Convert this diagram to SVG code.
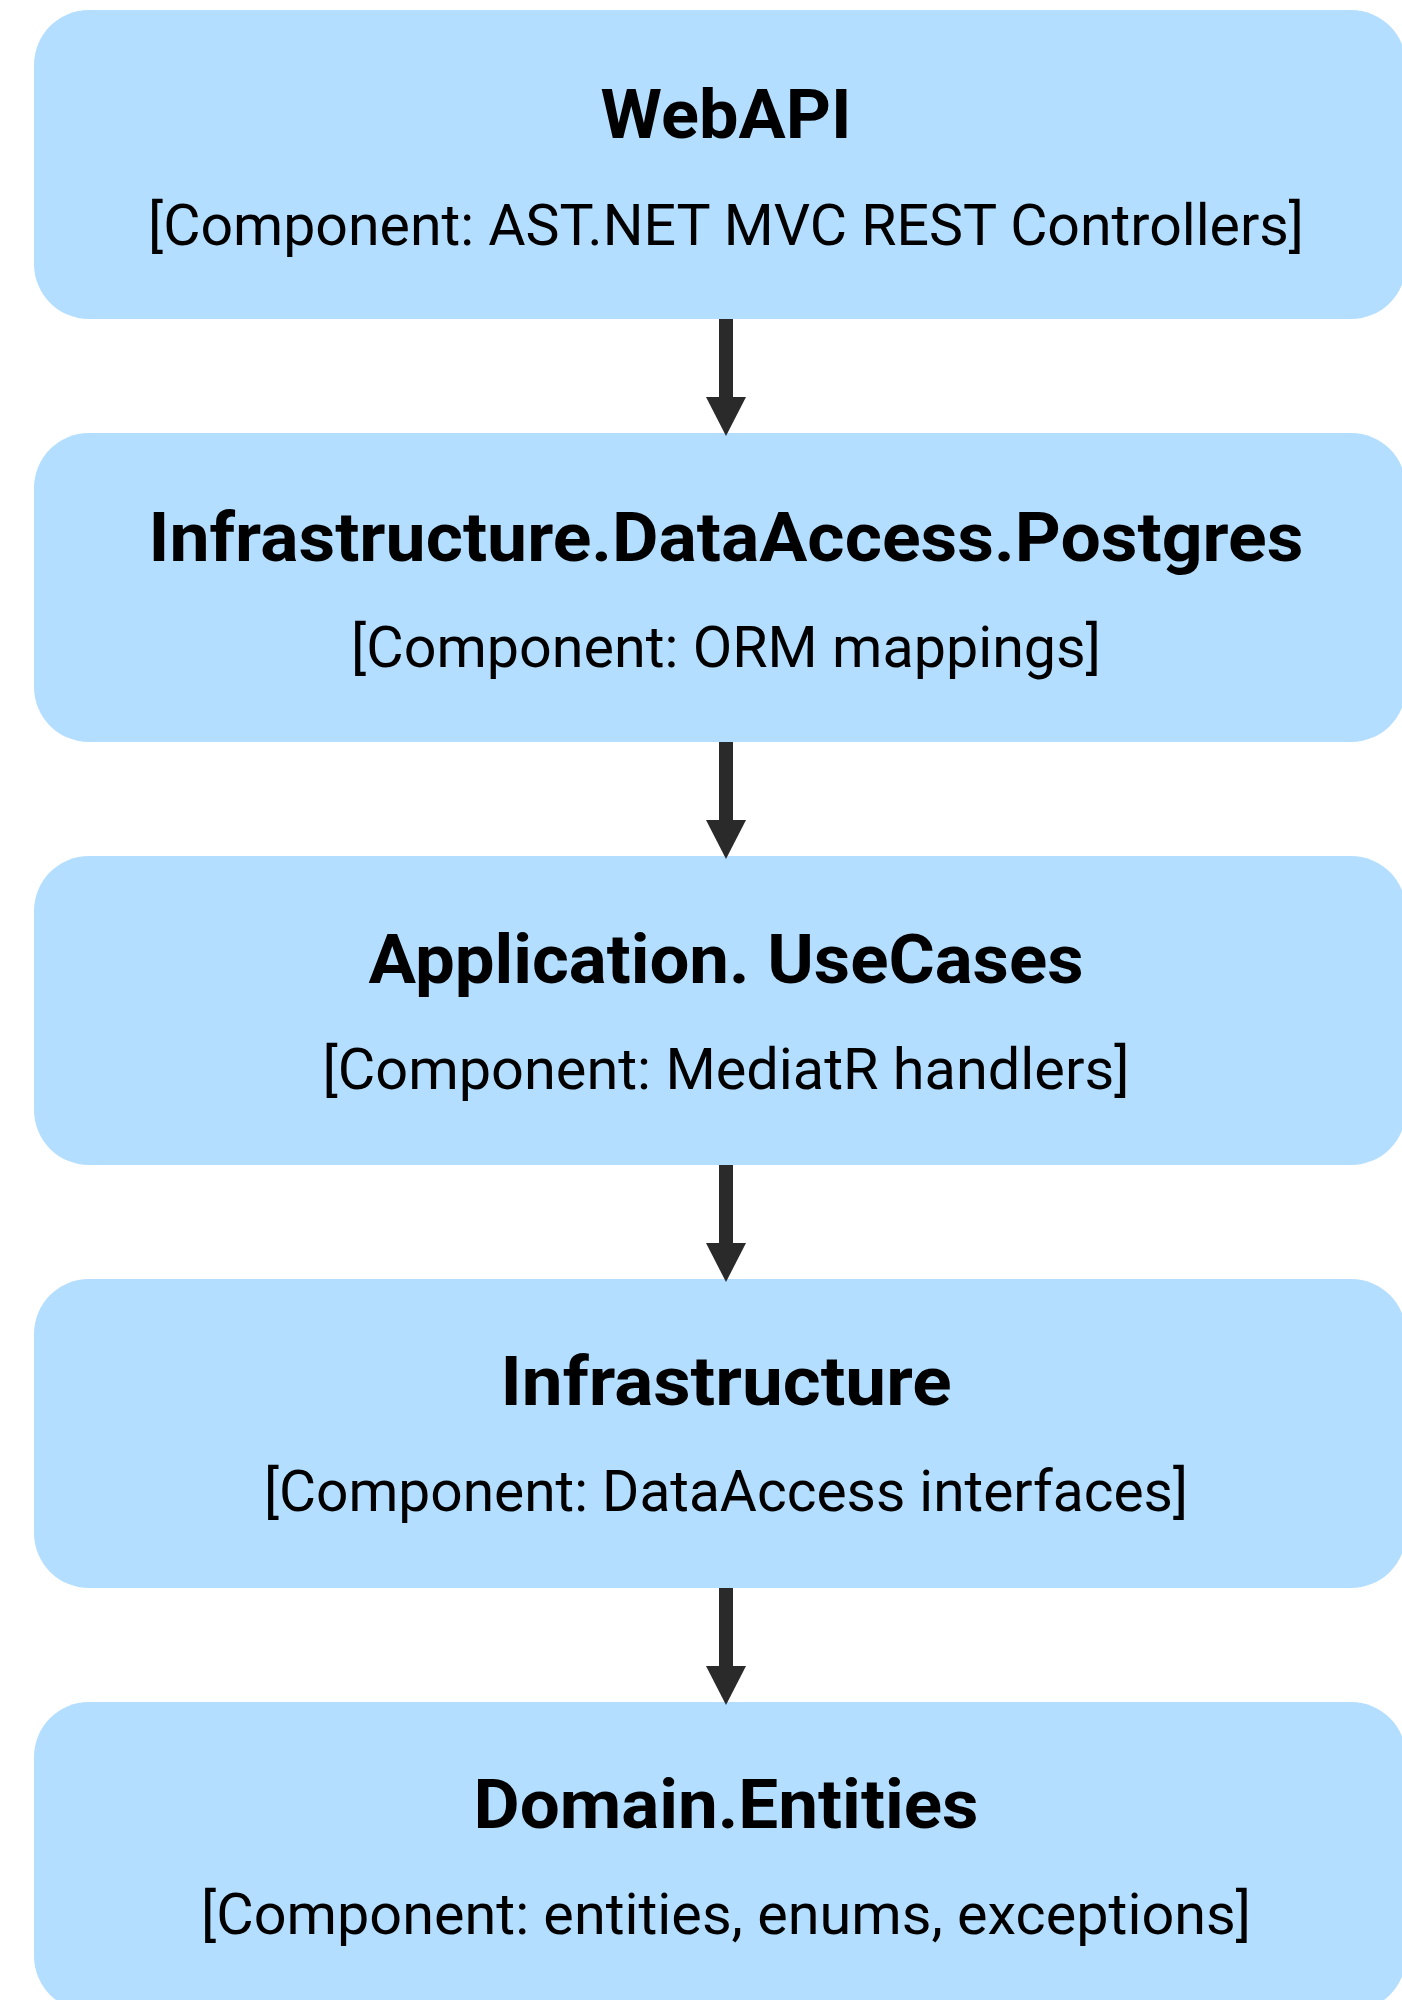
<svg xmlns="http://www.w3.org/2000/svg" width="1402" height="2000" viewBox="0 0 1402 2000">
  <style>
    .box { fill: #b3deff; }
    .title { font-family: Roboto, "Liberation Sans", sans-serif; font-weight: 700; font-size: 68px; fill: #000; text-anchor: middle; }
    .sub { font-family: Roboto, "Liberation Sans", sans-serif; font-weight: 400; font-size: 58px; fill: #000; text-anchor: middle; }
    .shaft, .head { fill: #2a2a2a; }
  </style>
  <rect width="1402" height="2000" fill="#ffffff"/>

  <!-- layered components, top to bottom -->
  <g id="webapi">
    <rect class="box" x="34" y="10" width="1372" height="309" rx="55" ry="55"/>
    <text class="title" x="726" y="138" textLength="251" lengthAdjust="spacingAndGlyphs">WebAPI</text>
    <text class="sub" x="726" y="245" textLength="1156" lengthAdjust="spacingAndGlyphs">[Component: AST.NET MVC REST Controllers]</text>
  </g>

  <g id="infrastructure-dataaccess-postgres">
    <rect class="box" x="34" y="433" width="1372" height="309" rx="55" ry="55"/>
    <text class="title" x="726" y="561" textLength="1155" lengthAdjust="spacingAndGlyphs">Infrastructure.DataAccess.Postgres</text>
    <text class="sub" x="726" y="667" textLength="750" lengthAdjust="spacingAndGlyphs">[Component: ORM mappings]</text>
  </g>

  <g id="application-usecases">
    <rect class="box" x="34" y="856" width="1372" height="309" rx="55" ry="55"/>
    <text class="title" x="726" y="983" textLength="715" lengthAdjust="spacingAndGlyphs">Application. UseCases</text>
    <text class="sub" x="726" y="1089" textLength="807" lengthAdjust="spacingAndGlyphs">[Component: MediatR handlers]</text>
  </g>

  <g id="infrastructure">
    <rect class="box" x="34" y="1279" width="1372" height="309" rx="55" ry="55"/>
    <text class="title" x="726" y="1405" textLength="451" lengthAdjust="spacingAndGlyphs">Infrastructure</text>
    <text class="sub" x="726" y="1511" textLength="924" lengthAdjust="spacingAndGlyphs">[Component: DataAccess interfaces]</text>
  </g>

  <g id="domain-entities">
    <rect class="box" x="34" y="1702" width="1372" height="309" rx="55" ry="55"/>
    <text class="title" x="726" y="1828" textLength="505" lengthAdjust="spacingAndGlyphs">Domain.Entities</text>
    <text class="sub" x="726" y="1934" textLength="1050" lengthAdjust="spacingAndGlyphs">[Component: entities, enums, exceptions]</text>
  </g>

  <!-- dependency arrows -->
  <g id="connectors">
    <rect class="shaft" x="719" y="319" width="14" height="80"/>
    <polygon class="head" points="706,397 746,397 726,436"/>
    <rect class="shaft" x="719" y="742" width="14" height="80"/>
    <polygon class="head" points="706,820 746,820 726,859"/>
    <rect class="shaft" x="719" y="1165" width="14" height="80"/>
    <polygon class="head" points="706,1243 746,1243 726,1282"/>
    <rect class="shaft" x="719" y="1588" width="14" height="80"/>
    <polygon class="head" points="706,1666 746,1666 726,1705"/>
  </g>
</svg>
